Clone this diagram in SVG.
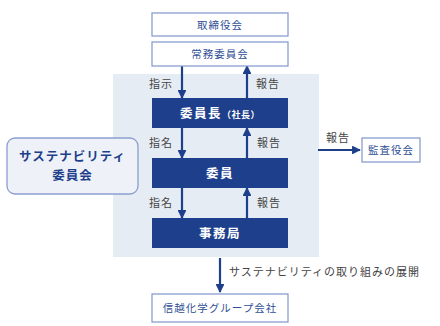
<svg xmlns="http://www.w3.org/2000/svg" width="440" height="326" viewBox="0 0 440 326">
<style>
.wbox{fill:#fff;stroke:#8a9fcf;stroke-width:1.3}
.wt{font-family:"Noto Sans CJK JP","Noto Sans",sans-serif;font-size:10.5px;fill:#2f4f94;text-anchor:middle;letter-spacing:1px}
.dbox{fill:#1e3f8b}
.dt{font-family:"Noto Sans CJK JP","Noto Sans",sans-serif;font-size:12.5px;font-weight:bold;fill:#fff;text-anchor:middle;letter-spacing:1.5px}
.lbl{font-family:"Noto Sans CJK JP","Noto Sans",sans-serif;font-size:11px;fill:#444;letter-spacing:1px}
.ln{stroke:#1e3f8b;stroke-width:2.2;fill:none}
</style>
<defs>
<marker id="ah" viewBox="0 0 10 10" refX="9" refY="5" markerWidth="4" markerHeight="4" orient="auto" markerUnits="strokeWidth">
<path d="M0,0L10,5L0,10z" fill="#1e3f8b"/>
</marker>
</defs>
<rect x="113" y="74" width="206" height="183" fill="#e6ecf3"/>
<g id="connectors">
<line class="ln" x1="182" y1="66" x2="182" y2="98" marker-end="url(#ah)"/>
<line class="ln" x1="247" y1="98" x2="247" y2="66" marker-end="url(#ah)"/>
<line class="ln" x1="182" y1="128" x2="182" y2="158" marker-end="url(#ah)"/>
<line class="ln" x1="247" y1="158" x2="247" y2="128" marker-end="url(#ah)"/>
<line class="ln" x1="182" y1="188" x2="182" y2="218" marker-end="url(#ah)"/>
<line class="ln" x1="247" y1="218" x2="247" y2="188" marker-end="url(#ah)"/>
<line class="ln" x1="318" y1="150" x2="360" y2="150" marker-end="url(#ah)"/>
<line class="ln" x1="220" y1="258" x2="220" y2="292" marker-end="url(#ah)"/>
<text class="lbl" x="149" y="88">指示</text>
<text class="lbl" x="256" y="88">報告</text>
<text class="lbl" x="149" y="147">指名</text>
<text class="lbl" x="257" y="147">報告</text>
<text class="lbl" x="149" y="207">指名</text>
<text class="lbl" x="257" y="207">報告</text>
<text class="lbl" x="326" y="142">報告</text>
<text class="lbl" x="229" y="276">サステナビリティの取り組みの展開</text>
</g>
<g id="torishimariyakukai">
<rect class="wbox" x="152" y="13" width="136" height="23"/>
<text class="wt" x="220" y="28.5">取締役会</text>
</g>
<g id="jomu">
<rect class="wbox" x="152" y="42" width="136" height="24"/>
<text class="wt" x="220" y="58">常務委員会</text>
</g>
<g id="iincho">
<rect class="dbox" x="152" y="98" width="136" height="30"/>
<text class="dt" x="220" y="117.5">委員長<tspan font-size="9px" letter-spacing="0.5px">（社長）</tspan></text>
</g>
<g id="iin">
<rect class="dbox" x="152" y="158" width="136" height="30"/>
<text class="dt" x="220" y="177.5">委員</text>
</g>
<g id="jimukyoku">
<rect class="dbox" x="152" y="218" width="136" height="30"/>
<text class="dt" x="220" y="237.5">事務局</text>
</g>
<g id="sustainability">
<rect x="7" y="138" width="131" height="56" rx="8" fill="#eef2f8" stroke="#8a9fcf" stroke-width="1.3"/>
<text class="dt" x="72.5" y="161" style="fill:#1e3f8b;letter-spacing:1px">サステナビリティ</text>
<text class="dt" x="72.5" y="180" style="fill:#1e3f8b;letter-spacing:1px">委員会</text>
</g>
<g id="kansa">
<rect class="wbox" x="362" y="138" width="58" height="24"/>
<text class="wt" x="391" y="154">監査役会</text>
</g>
<g id="group">
<rect class="wbox" x="152" y="294" width="136" height="28"/>
<text class="wt" x="220" y="312">信越化学グループ会社</text>
</g>
</svg>
